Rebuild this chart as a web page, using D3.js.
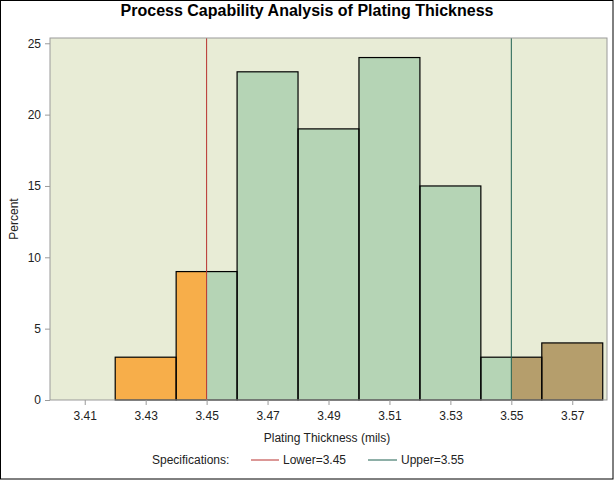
<!DOCTYPE html>
<html>
<head>
<meta charset="utf-8">
<script src="https://cdn.jsdelivr.net/npm/d3@7"></script>
<style>
  body { margin: 0; background: #fff; }
  svg { font-family: "Liberation Sans", Arial, sans-serif; }
</style>
</head>
<body>
<div data-output></div>
<script>
// histogram bins (lower edge, upper edge) and percent
const binStart = [3.42, 3.44, 3.46, 3.48, 3.50, 3.52, 3.54, 3.56];
const binEnd   = [3.44, 3.46, 3.48, 3.50, 3.52, 3.54, 3.56, 3.58];
const percent  = [3, 9, 23, 19, 24, 15, 3, 4];

const xTicks = [3.41, 3.43, 3.45, 3.47, 3.49, 3.51, 3.53, 3.55, 3.57];
const yTicks = [0, 5, 10, 15, 20, 25];

const lowerSpec = 3.45;
const upperSpec = 3.55;

const W = 614, H = 480;
const plot = { left: 50, right: 607, top: 38, bottom: 400 };

const svg = d3.select('[data-output]').append('svg')
  .attr('width', W)
  .attr('height', H);

// outer frame
svg.append('rect')
  .attr('x', 0.5).attr('y', 0.5)
  .attr('width', W - 1.5).attr('height', H - 1.5)
  .attr('fill', '#fff').attr('stroke', '#000');

const x = d3.scaleLinear().domain([3.3986, 3.5814]).range([plot.left, plot.right]);
const y = d3.scaleLinear().domain([0, 25.37]).range([plot.bottom, plot.top]);

// plot background
svg.append('rect')
  .attr('x', plot.left).attr('y', plot.top)
  .attr('width', plot.right - plot.left).attr('height', plot.bottom - plot.top)
  .attr('fill', '#E8ECD6');

// split bins into colored pieces by spec limits
const pieces = [];
binStart.forEach((s, i) => {
  const e = binEnd[i];
  const cuts = [s, e, lowerSpec, upperSpec].filter(v => v >= s && v <= e).sort((a, b) => a - b);
  const uniq = [...new Set(cuts)];
  for (let k = 0; k < uniq.length - 1; k++) {
    const a = uniq[k], b = uniq[k + 1];
    const mid = (a + b) / 2;
    const color = mid < lowerSpec ? '#F7AE4A' : (mid > upperSpec ? '#B59E6C' : '#B5D4B5');
    pieces.push({ a, b, v: percent[i], color });
  }
});

svg.append('g').selectAll('rect')
  .data(pieces)
  .join('rect')
  .attr('x', d => x(d.a))
  .attr('y', d => y(d.v))
  .attr('width', d => x(d.b) - x(d.a))
  .attr('height', d => y(0) - y(d.v))
  .attr('fill', d => d.color);

// bar outlines
svg.append('g').selectAll('rect')
  .data(percent)
  .join('rect')
  .attr('x', (d, i) => x(binStart[i]))
  .attr('y', d => y(d))
  .attr('width', (d, i) => x(binEnd[i]) - x(binStart[i]))
  .attr('height', d => y(0) - y(d))
  .attr('fill', 'none')
  .attr('stroke', '#000')
  .attr('stroke-width', 1.2);

// spec lines
svg.append('line')
  .attr('x1', x(lowerSpec)).attr('x2', x(lowerSpec))
  .attr('y1', plot.top).attr('y2', plot.bottom)
  .attr('stroke', '#B8312E').attr('stroke-width', 1);
svg.append('line')
  .attr('x1', x(upperSpec)).attr('x2', x(upperSpec))
  .attr('y1', plot.top).attr('y2', plot.bottom)
  .attr('stroke', '#1E6050').attr('stroke-width', 1);

// plot frame
svg.append('rect')
  .attr('x', plot.left).attr('y', plot.top)
  .attr('width', plot.right - plot.left).attr('height', plot.bottom - plot.top)
  .attr('fill', 'none').attr('stroke', '#9A9A9A');

// axes
const xAxis = svg.append('g')
  .attr('transform', `translate(0, ${plot.bottom})`)
  .call(d3.axisBottom(x).tickValues(xTicks).tickFormat(d3.format('.2f')).tickSize(5).tickPadding(6));
const yAxis = svg.append('g')
  .attr('transform', `translate(${plot.left}, 0)`)
  .call(d3.axisLeft(y).tickValues(yTicks).tickSize(5).tickPadding(4));

[xAxis, yAxis].forEach(g => {
  g.select('.domain').remove();
  g.selectAll('.tick line').attr('stroke', '#9A9A9A');
  g.selectAll('.tick text')
    .attr('fill', '#222')
    .style('font-size', '12px')
    .style('font-family', '"Liberation Sans", Arial, sans-serif');
});

// title
svg.append('text')
  .attr('x', 307).attr('y', 16)
  .attr('text-anchor', 'middle')
  .style('font-size', '16px').style('font-weight', 'bold')
  .text('Process Capability Analysis of Plating Thickness');

// axis labels
svg.append('text')
  .attr('x', 327).attr('y', 442)
  .attr('text-anchor', 'middle')
  .attr('fill', '#222')
  .style('font-size', '12px')
  .text('Plating Thickness (mils)');

svg.append('text')
  .attr('transform', `translate(18, ${(plot.top + plot.bottom) / 2}) rotate(-90)`)
  .attr('text-anchor', 'middle')
  .attr('fill', '#222')
  .style('font-size', '12px')
  .text('Percent');

// legend
const leg = svg.append('g').attr('transform', 'translate(0, 464)');
leg.append('text').attr('x', 152).attr('y', 0).attr('fill', '#222')
  .style('font-size', '12px').text('Specifications:');
leg.append('line').attr('x1', 251).attr('x2', 279).attr('y1', -4).attr('y2', -4)
  .attr('stroke', '#B8312E');
leg.append('text').attr('x', 283).attr('y', 0).attr('fill', '#222')
  .style('font-size', '12px').text('Lower=' + lowerSpec);
leg.append('line').attr('x1', 368).attr('x2', 397).attr('y1', -4).attr('y2', -4)
  .attr('stroke', '#1E6050');
leg.append('text').attr('x', 401).attr('y', 0).attr('fill', '#222')
  .style('font-size', '12px').text('Upper=' + upperSpec);
</script>
</body>
</html>
